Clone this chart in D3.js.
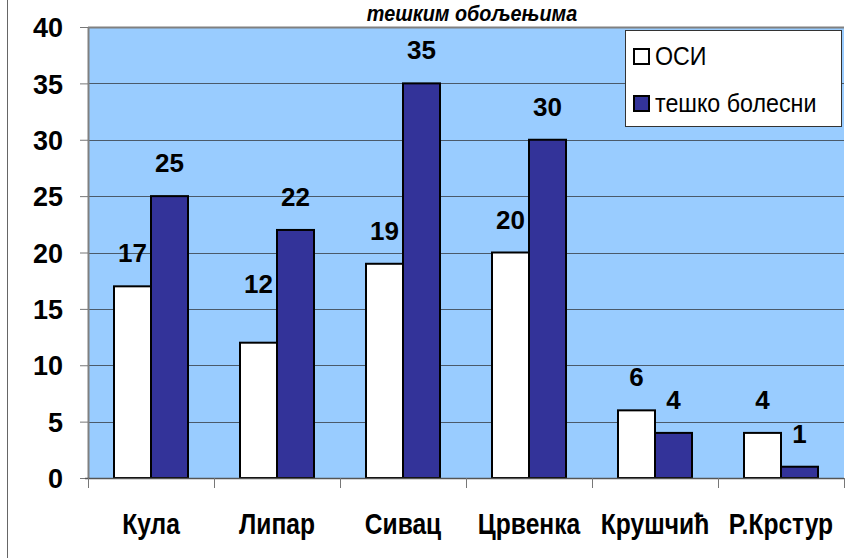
<!DOCTYPE html>
<html>
<head>
<meta charset="utf-8">
<script src="https://cdn.jsdelivr.net/npm/d3@7"></script>
<style>
  html, body { margin: 0; padding: 0; background: #fff; }
  svg { display: block; }
  text { font-family: "Liberation Sans", Arial, sans-serif; }
</style>
</head>
<body>
<svg id="chart" width="845" height="558"></svg>
<script>
// ---- data ----
const categories = ["Кула", "Липар", "Сивац", "Црвенка", "Крушчић", "Р.Крстур"];
const series = ["ОСИ", "тешко болесни"];
const osiValues = [17, 12, 19, 20, 6, 4];
const tezkoValues = [25, 22, 35, 30, 4, 1];
const yTicks = [0, 5, 10, 15, 20, 25, 30, 35, 40];
const titleText = "тешким обољењима";

// ---- layout ----
const W = 845, H = 558;
const plot = { left: 88, right: 844, top: 27, bottom: 478 };
const colors = { "ОСИ": "#ffffff", "тешко болесни": "#333399" };
const svg = d3.select("#chart");

// frame line at left
svg.append("line").attr("x1", 7.5).attr("x2", 7.5).attr("y1", 0).attr("y2", H)
  .attr("stroke", "#666").attr("stroke-width", 1);

const y = d3.scaleLinear().domain([0, 40]).range([plot.bottom, plot.top]);
const p = 52 / 126;
const x0 = d3.scaleBand().domain(categories).range([plot.left, plot.right])
  .paddingInner(p).paddingOuter(p / 2);
const x1 = d3.scaleBand().domain(series).range([0, x0.bandwidth()]);

// plot background
svg.append("rect").attr("x", plot.left).attr("y", plot.top)
  .attr("width", plot.right - plot.left).attr("height", plot.bottom - plot.top)
  .attr("fill", "#99ccff");

// gridlines
svg.append("g").selectAll("line").data(yTicks.filter(t => t > 0 && t < 40)).join("line")
  .attr("x1", plot.left).attr("x2", plot.right)
  .attr("y1", d => Math.round(y(d)) + 0.5).attr("y2", d => Math.round(y(d)) + 0.5)
  .attr("stroke", "#4a5a6a").attr("stroke-width", 1);

// plot top & left border (gray)
svg.append("line").attr("x1", plot.left).attr("x2", plot.right)
  .attr("y1", plot.top + 0.5).attr("y2", plot.top + 0.5).attr("stroke", "#808080").attr("stroke-width", 2);
svg.append("line").attr("x1", plot.left + 0.5).attr("x2", plot.left + 0.5)
  .attr("y1", plot.top).attr("y2", plot.bottom).attr("stroke", "#808080").attr("stroke-width", 2);

// y axis
const yAxis = d3.axisLeft(y).tickValues(yTicks).tickSize(8).tickPadding(17);
const gy = svg.append("g").attr("transform", `translate(${plot.left},0)`).call(yAxis);
gy.select(".domain").remove();
gy.selectAll(".tick line").attr("stroke", "#777");
gy.selectAll(".tick text").attr("font-size", 27).attr("font-weight", "bold")
  .attr("fill", "#000").attr("font-family", "Liberation Sans, Arial, sans-serif")
  .attr("dy", "0.36em");

// bars
const data = [];
categories.forEach((c, i) => {
  data.push({ cat: c, s: series[0], v: osiValues[i] });
  data.push({ cat: c, s: series[1], v: tezkoValues[i] });
});
svg.append("g").selectAll("rect").data(data).join("rect")
  .attr("x", d => x0(d.cat) + x1(d.s))
  .attr("y", d => y(d.v))
  .attr("width", x1.bandwidth())
  .attr("height", d => y(0) - y(d.v))
  .attr("fill", d => colors[d.s])
  .attr("stroke", "#000").attr("stroke-width", 2);

// x axis line and category boundary ticks
svg.append("line").attr("x1", plot.left - 3).attr("x2", plot.right)
  .attr("y1", plot.bottom + 0.5).attr("y2", plot.bottom + 0.5)
  .attr("stroke", "#555").attr("stroke-width", 1.5);
const step = x0.step();
const bounds = categories.map(c => x0(c) - step * p / 2).concat([plot.right]);
svg.append("g").selectAll("line").data(bounds).join("line")
  .attr("x1", d => Math.round(d) + 0.5).attr("x2", d => Math.round(d) + 0.5)
  .attr("y1", plot.bottom).attr("y2", plot.bottom + 10)
  .attr("stroke", "#777").attr("stroke-width", 1);

// category labels
svg.append("g").selectAll("text").data(categories).join("text")
  .attr("transform", d => `translate(${x0(d) + x0.bandwidth() / 2},534) scale(0.82,1)`)
  .attr("text-anchor", "middle").attr("font-size", 30).attr("font-weight", "bold")
  .attr("fill", "#000").text(d => d);

// value labels
const nudge = { "Липар|ОСИ": 26 };
svg.append("g").selectAll("text").data(data).join("text")
  .attr("transform", d => {
    const cx = x0(d.cat) + x1(d.s) + x1.bandwidth() / 2;
    const cy = y(d.v) - 34 - (nudge[d.cat + "|" + d.s] || 0) + 10;
    return `translate(${cx},${cy})`;
  })
  .attr("text-anchor", "middle").attr("font-size", 26).attr("font-weight", "bold")
  .attr("fill", "#000").text(d => d.v);

// title (upper lines lie outside the picture in the reference)
svg.append("text").attr("transform", "translate(472,21) scale(0.9,1)")
  .attr("text-anchor", "middle").attr("font-size", 22).attr("font-weight", "bold")
  .attr("font-style", "italic").attr("fill", "#000").text(titleText);

// legend
const lg = svg.append("g");
lg.append("rect").attr("x", 625.5).attr("y", 30.5).attr("width", 216).attr("height", 96)
  .attr("fill", "#fff").attr("stroke", "#333").attr("stroke-width", 1);
const legendY = d3.scalePoint().domain(series).range([56, 103]);
series.forEach(s => {
  lg.append("rect").attr("x", 634).attr("y", legendY(s) - 7).attr("width", 15).attr("height", 15)
    .attr("fill", colors[s]).attr("stroke", "#000").attr("stroke-width", 2);
  lg.append("text").attr("x", 0).attr("y", 0)
    .attr("font-size", 25).attr("fill", "#000")
    .attr("transform", `translate(655,${legendY(s) + 9}) scale(0.93,1)`)
    .text(s);
});
</script>
</body>
</html>
